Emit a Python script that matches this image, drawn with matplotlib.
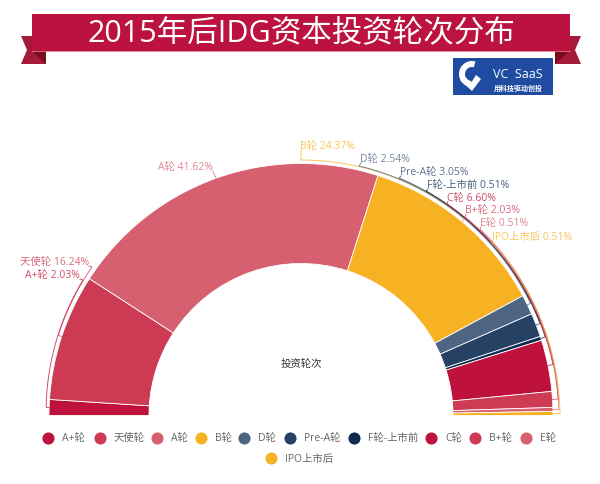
import numpy as np
import matplotlib
matplotlib.use('Agg')
import matplotlib.pyplot as plt
from matplotlib.patches import Polygon, Rectangle, Wedge

plt.rcParams['font.family'] = ['Open Sans', 'Noto Sans CJK SC', 'DejaVu Sans']

# Data
rounds = ['A+轮', '天使轮', 'A轮', 'B轮', 'D轮', 'Pre-A轮', 'F轮-上市前', 'C轮', 'B+轮', 'E轮', 'IPO上市后']
shares = [2.03, 16.24, 41.62, 24.37, 2.54, 3.05, 0.51, 6.60, 2.03, 0.51, 0.51]
colors = ['#BE123C', '#CC3A54', '#D65F70', '#F6B223', '#4D6582', '#254265', '#0E2A50',
          '#BE123C', '#CC3A54', '#D65F70', '#F6B223']

title = '2015年后IDG资本投资轮次分布'
center_label = '投资轮次'

# label layout in pixels: text x, text y, where the leader ends
label_xy = [(80, 276), (89, 263), (213, 168), (300, 147), (360, 160), (400, 173),
            (427, 186), (447, 198.5), (465, 211), (480, 224), (492, 237)]
leader_end = [(83, 281), (92, 268), (213, 173), (301, 161), (359, 167), (399, 179),
              (426, 192), (447, 205), (465, 218), (480, 230), (491, 243)]
leader_r = [255, 255.5, 252, 255.5, 255.5, 256, 256.5, 257, 257.5, 258, 259]
legend_dot = [(48, 439), (100, 439), (157, 439), (201, 439), (244, 439), (290, 439),
              (354, 439), (431, 439), (475, 439), (526, 439), (271, 459)]

cx, cy = 301, 416.5
outer, inner = 252, 152

fig = plt.figure(figsize=(6, 4.85), dpi=100)
ax = fig.add_axes([0, 0, 1, 1])

# half donut, the lower half is a hidden slice
wedges, _ = ax.pie(shares + [sum(shares)], colors=colors + ['white'], center=(cx, cy), radius=outer,
                   startangle=180, counterclock=True, frame=True,
                   wedgeprops=dict(width=outer - inner, edgecolor='white', linewidth=0.6))
wedges[-1].set_visible(False)

ax.set_xlim(0, 600)
ax.set_ylim(485, 0)
ax.set_aspect('equal')
ax.axis('off')

# leader lines run along the rim from the middle of the slice
done = 0
for i, name in enumerate(rounds):
    mid = 180 + 180 * (done + shares[i] / 2) / sum(shares)
    done += shares[i]
    ex, ey = leader_end[i]
    end = np.degrees(np.arctan2(ey - cy, ex - cx)) % 360
    t = np.radians(np.linspace(mid, end, 80))
    r = np.linspace(leader_r[i], np.hypot(ex - cx, ey - cy), 80)
    xs = [cx + outer * np.cos(t[0])] + list(cx + r * np.cos(t))
    ys = [cy + outer * np.sin(t[0])] + list(cy + r * np.sin(t))
    xs.append(label_xy[i][0] + (1 if i > 2 else 0))
    ys.append(label_xy[i][1] + 4)
    ax.plot(xs, ys, color=colors[i], lw=0.6, alpha=0.85, solid_joinstyle='round', zorder=3)
    ax.text(label_xy[i][0], label_xy[i][1], f'{name} {shares[i]:.2f}%', color=colors[i],
            fontsize=7.5, va='center', ha='right' if i < 3 else 'left', alpha=0.75, zorder=4)

ax.text(301, 364, center_label, color='#333333', fontsize=7.5, ha='center', va='center')

# legend
for i, name in enumerate(rounds):
    x, y = legend_dot[i]
    ax.scatter([x], [y], s=76, color=colors[i], linewidths=0, zorder=3)
    ax.text(x + 14, y, name, color='#666666', fontsize=7.5, va='center', ha='left')

# ribbon
tail = '#A31B38'
fold = '#7A0C1E'
main = '#BC123F'
ax.add_patch(Polygon([(21, 37), (46, 37), (46, 65), (21, 65), (27, 51)], color=tail, lw=0, zorder=5))
ax.add_patch(Polygon([(581, 37), (555, 37), (555, 65), (581, 65), (575, 51)], color=tail, lw=0, zorder=5))
ax.add_patch(Polygon([(32, 52), (46, 52), (46, 65)], color=fold, lw=0, zorder=6))
ax.add_patch(Polygon([(570, 52), (555, 52), (555, 65)], color=fold, lw=0, zorder=6))
ax.add_patch(Rectangle((32, 15), 538, 37, color=main, lw=0, zorder=7))
ax.plot([32, 570], [52.3, 52.3], color='#E0758F', lw=0.6, zorder=7)
ax.text(301, 33.5, title, color='white', fontsize=22, ha='center', va='center', zorder=8)

# logo
blue = '#1F4CA0'
ax.add_patch(Rectangle((453, 59), 100, 37, color=blue, lw=0, zorder=5))
ax.add_patch(Wedge((472, 75), 13, 95, 285, width=6, color='white', lw=0, zorder=6))
ax.add_patch(Polygon([(460, 81), (472, 92), (481, 80), (476, 76), (471, 84), (466, 79)],
                     color='white', lw=0, zorder=6))
ax.text(493, 75, 'VC  SaaS', color='white', fontsize=9, ha='left', va='center', zorder=6)
ax.text(494, 89.5, '用科技驱动创投', color='white', fontsize=5, fontweight='bold', ha='left', va='center', zorder=6)

fig.savefig('out.png', dpi=100)
